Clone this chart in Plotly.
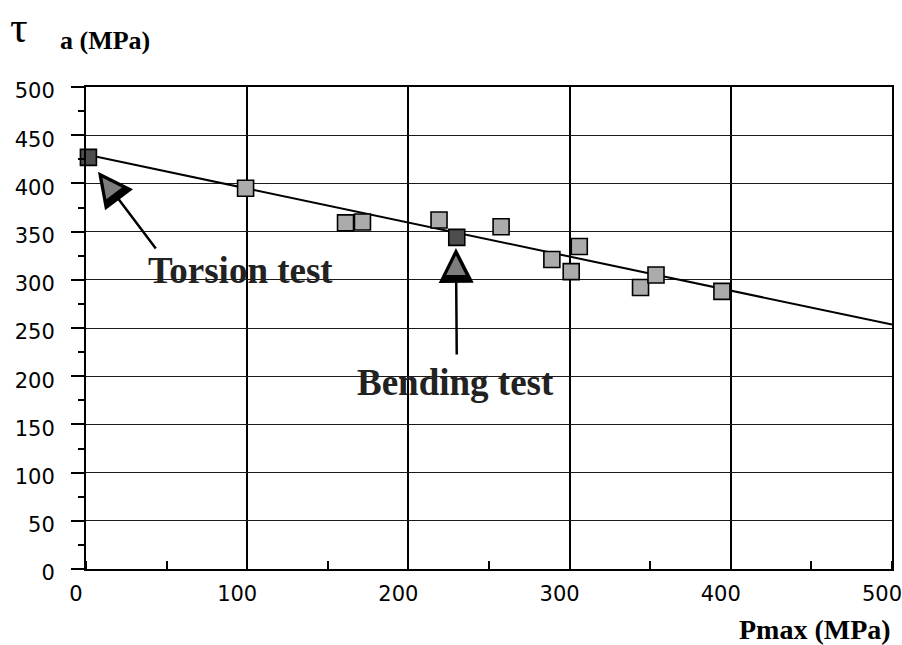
import plotly.graph_objects as go

# Fatigue data: alternating shear stress vs. maximum hydrostatic pressure
pmax_open = [99, 161, 171.5, 219, 257.5, 289, 301, 306, 344, 353.6, 394.5]
tau_open = [395, 359, 360, 362, 355, 321, 308.5, 334.5, 292, 305, 288]

# Reference tests (filled markers)
pmax_torsion = [1.5]
tau_torsion = [427]
pmax_bending = [230]
tau_bending = [344]

# Fitted line endpoints
fit_x = [0, 500]
fit_y = [430, 253.5]

x_ticks = [0, 100, 200, 300, 400, 500]
y_ticks = [0, 50, 100, 150, 200, 250, 300, 350, 400, 450, 500]

W, H = 902, 645
L, R, T, B = 86, 10, 87, 76

fig = go.Figure()

fig.add_trace(go.Scatter(
    x=fit_x, y=fit_y, mode="lines",
    line=dict(color="black", width=2), showlegend=False, hoverinfo="skip"))

# speckled squares drawn as mid-grey with a dark outline
fig.add_trace(go.Scatter(
    x=pmax_open, y=tau_open, mode="markers", cliponaxis=False,
    marker=dict(symbol="square", size=16, color="#ababab",
                line=dict(color="black", width=1.6)),
    showlegend=False))

for px_, py_ in ((pmax_torsion, tau_torsion), (pmax_bending, tau_bending)):
    fig.add_trace(go.Scatter(
        x=px_, y=py_, mode="markers", cliponaxis=False,
        marker=dict(symbol="square", size=16, color="#4d4d4d",
                    line=dict(color="black", width=1.6)),
        showlegend=False))

serif = "Liberation Serif"
ann = []


def arrow(tip, tail, inner_offset):
    # black outer head and shaft
    ann.append(dict(x=tip[0], y=tip[1], ax=tail[0], ay=tail[1],
                    xref="x", yref="y", axref="x", ayref="y", text="",
                    showarrow=True, arrowhead=2, arrowwidth=2.5, arrowsize=2.8,
                    arrowcolor="black"))
    # grey inner head so the outer one reads as an outline
    ann.append(dict(x=tip[0], y=tip[1], ax=inner_offset[0], ay=inner_offset[1],
                    xref="x", yref="y", axref="pixel", ayref="pixel", text="",
                    showarrow=True, arrowhead=2, arrowwidth=1, arrowsize=3.9,
                    standoff=7.5, arrowcolor="#7d7d7d"))


arrow((7.4, 412), (44, 331), (15, 20))
arrow((229.5, 333), (230, 221), (0, 26))

ann.append(dict(x=95.8, y=310, xref="x", yref="y", text="Torsion test",
                showarrow=False, xanchor="center", yanchor="middle",
                font=dict(family=serif, size=37, color="#222", weight="bold")))
ann.append(dict(x=229.5, y=193, xref="x", yref="y", text="Bending test",
                showarrow=False, xanchor="center", yanchor="middle",
                font=dict(family=serif, size=37, color="#222", weight="bold")))


def paper(pxx, pyy):
    return (pxx - L) / (W - L - R), (H - B - pyy) / (H - T - B)


tx, ty = paper(19, 27)
ann.append(dict(x=tx, y=ty, xref="paper", yref="paper", text="τ",
                showarrow=False, xanchor="center", yanchor="middle",
                font=dict(family=serif, size=44, color="black")))
tx, ty = paper(104.5, 41)
ann.append(dict(x=tx, y=ty, xref="paper", yref="paper", text="a (MPa)",
                showarrow=False, xanchor="center", yanchor="middle",
                font=dict(family=serif, size=26, color="black", weight="bold")))
tx, ty = paper(893, 629)
ann.append(dict(x=tx, y=ty, xref="paper", yref="paper", text="Pmax (MPa)",
                showarrow=False, xanchor="right", yanchor="middle",
                font=dict(family=serif, size=28, color="black", weight="bold")))

tick_font = dict(family="DejaVu Sans", size=21, color="black")

fig.update_layout(
    width=W, height=H,
    margin=dict(l=L, r=R, t=T, b=B, pad=0, autoexpand=False),
    paper_bgcolor="white", plot_bgcolor="white",
    annotations=ann,
    xaxis=dict(range=[0, 500], tickvals=x_ticks, ticks="", showgrid=True,
               automargin=False, ticklabeloverflow="allow",
               gridcolor="black", gridwidth=2, zeroline=False,
               showline=True, linecolor="black", linewidth=2, mirror=True,
               tickfont=tick_font, ticklabelstandoff=5, ticklabelshift=-10,
               minor=dict(ticks="inside", ticklen=8, tickwidth=1.5,
                          tickcolor="black", dtick=50, tick0=0, showgrid=False)),
    yaxis=dict(range=[0, 500], tickvals=y_ticks, ticks="outside", ticklen=13,
               tickwidth=1.5, tickcolor="black", showgrid=True,
               automargin=False, ticklabeloverflow="allow",
               gridcolor="#1a1a1a", gridwidth=1.3, zeroline=False,
               showline=True, linecolor="black", linewidth=2, mirror=True,
               tickfont=tick_font, ticklabelstandoff=12, ticklabelshift=4,
               minor=dict(ticks="outside", ticklen=6, tickwidth=1.5,
                          tickcolor="black", dtick=25, tick0=0, showgrid=False)),
)

fig.write_html("out.html")
